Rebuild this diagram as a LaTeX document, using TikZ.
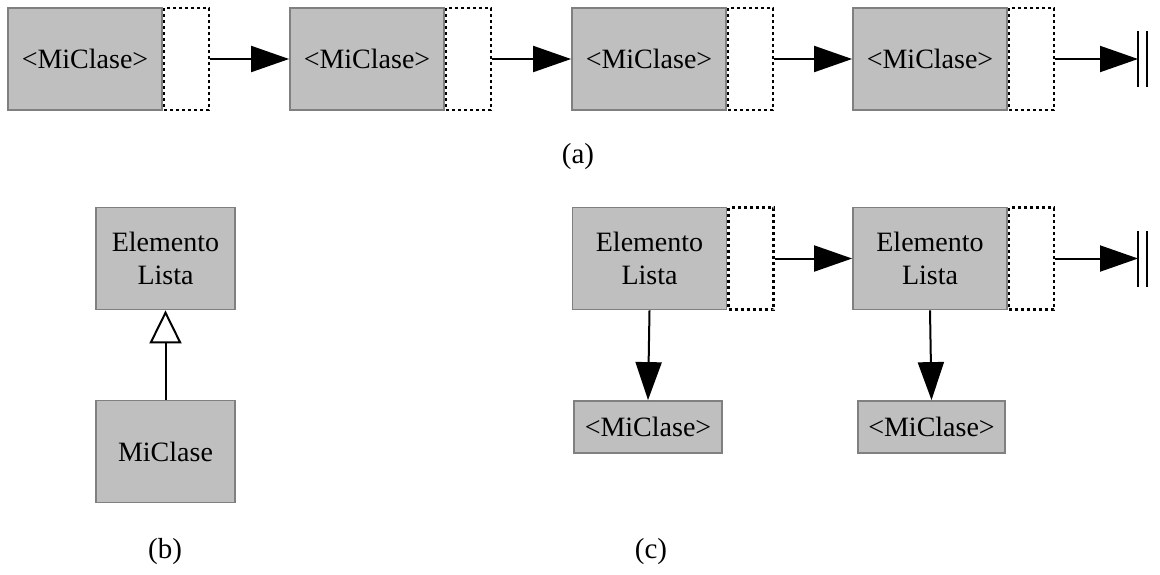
\documentclass[tikz,border=0pt]{standalone}
\usepackage{fontspec}
\setmainfont{Liberation Serif}
\usetikzlibrary{positioning,arrows.meta}

\begin{document}
\begin{tikzpicture}
    [x=0.5pt,y=-0.5pt,
    clase/.style={draw=black!50,fill=black!25,line width=0.9pt,inner sep=0pt,
      minimum width=77pt,minimum height=51pt,align=center,
      font=\fontsize{14}{16.5}\selectfont},
    siguiente/.style={draw,dash pattern=on 1.5pt off 1.5pt,line width=1.1pt,
      inner sep=0pt,minimum width=22.5pt,minimum height=51pt},
    flecha/.style={-{Triangle[length=19pt,width=13pt]},line width=1pt},
    hereda/.style={-{Triangle[open,length=16.5pt,width=16pt,fill=white]},line width=1pt},
    etiqueta/.style={font=\fontsize{14.5}{16.5}\selectfont}]
    \useasboundingbox (0,0) rectangle (1160,574);
    % (a)
    \node[clase] (a1) at (85,59) {<MiClase>};
    \node[siguiente,right=0pt of a1] (s1) {};
    \node[clase] (a2) at (367,59) {<MiClase>};
    \node[siguiente,right=0pt of a2] (s2) {};
    \node[clase] (a3) at (649,59) {<MiClase>};
    \node[siguiente,right=0pt of a3] (s3) {};
    \node[clase] (a4) at (930,59) {<MiClase>};
    \node[siguiente,right=0pt of a4] (s4) {};
    \coordinate (fin1) at (1138,59);
    \draw[flecha] (s1.east) -- (a2.west);
    \draw[flecha] (s2.east) -- (a3.west);
    \draw[flecha] (s3.east) -- (a4.west);
    \draw[flecha] (s4.east) -- (fin1);
    \draw[line width=1pt] (fin1) ++(0,-28) -- ++(0,56)
      ++(9,0) -- ++(0,-56);
    \node[etiqueta] (la) at (578,157) {(a)};
    % (b)
    \node[clase,minimum width=69.5pt] (elem) at (165.5,258.5) {Elemento\\Lista};
    \node[clase,minimum width=69.5pt] (mi) at (165.5,451.5) {MiClase};
    \draw[hereda] (mi.north) -- (elem.south);
    \node[etiqueta] (lb) at (165,552) {(b)};
    % (c)
    \node[clase] (e1) at (649.5,258.5) {Elemento\\Lista};
    \node[siguiente,right=0pt of e1] (t1) {};
    \node[clase] (e2) at (930,258.5) {Elemento\\Lista};
    \node[siguiente,right=0pt of e2] (t2) {};
    \coordinate (fin2) at (1138,258.5);
    \draw[flecha] (t1.east) -- (e2.west);
    \draw[flecha] (t2.east) -- (fin2);
    \draw[line width=1pt] (fin2) ++(0,-28) -- ++(0,56)
      ++(9,0) -- ++(0,-56);
    \node[clase,minimum width=74pt,minimum height=26pt] (m1) at (648,427) {<MiClase>};
    \node[clase,minimum width=73.5pt,minimum height=26pt] (m2) at (931.5,427) {<MiClase>};
    \draw[flecha] (e1.south) -- (m1.north);
    \draw[flecha] (e2.south) -- (m2.north);
    \node[etiqueta] (lc) at (651,552) {(c)};
\end{tikzpicture}
\end{document}
